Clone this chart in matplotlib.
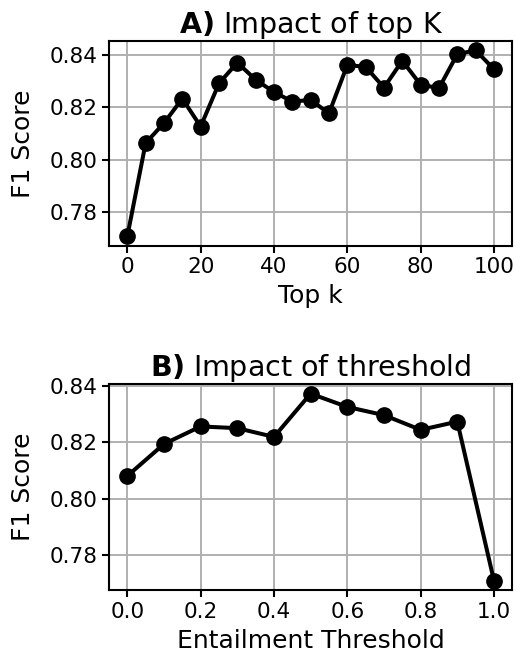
import matplotlib
matplotlib.use("Agg")
import matplotlib.pyplot as plt

# DATA
top_k = [0, 5, 10, 15, 20, 25, 30, 35, 40, 45, 50, 55, 60, 65, 70, 75, 80, 85, 90, 95, 100]
f1_top_k = [0.7709, 0.8064, 0.8140, 0.8233, 0.8127, 0.8291, 0.8370, 0.8305, 0.8258, 0.8222,
            0.8228, 0.8177, 0.8361, 0.8354, 0.8275, 0.8377, 0.8286, 0.8273, 0.8402, 0.8417, 0.8345]

thresholds = [0.0, 0.1, 0.2, 0.3, 0.4, 0.5, 0.6, 0.7, 0.8, 0.9, 1.0]
f1_threshold = [0.8081, 0.8194, 0.8256, 0.8250, 0.8219, 0.8372, 0.8325, 0.8296, 0.8244, 0.8273, 0.7711]

y_ticks = [0.78, 0.80, 0.82, 0.84]

plt.rcParams['font.family'] = 'DejaVu Sans'
plt.rcParams['xtick.labelsize'] = 15.5
plt.rcParams['ytick.labelsize'] = 15.5

fig = plt.figure(figsize=(5.16, 6.62), dpi=100)
ax1 = fig.add_axes([0.2112, 0.6289, 0.7816, 0.3092])
ax2 = fig.add_axes([0.2112, 0.1088, 0.7816, 0.3107])

panels = [
	(ax1, top_k, f1_top_k, "A)", " Impact of top K", "Top k"),
	(ax2, thresholds, f1_threshold, "B)", " Impact of threshold", "Entailment Threshold"),
]

for ax, xs, ys, tag, title, xlabel in panels:
	ax.plot(xs, ys, color="black", marker="o", markersize=11, linewidth=2.9, zorder=3)
	ax.grid(True, color="#b0b0b0", linewidth=1.4)
	ax.set_axisbelow(True)
	ax.set_yticks(y_ticks)
	ax.set_yticklabels([f"{t:.2f}" for t in y_ticks])
	ax.set_ylabel("F1 Score", fontsize=18, labelpad=10)
	ax.set_xlabel(xlabel, fontsize=18, labelpad=5)
	ax.set_title(r"$\bf{" + tag + "}$" + title, fontsize=20.5)
	for s in ax.spines.values():
		s.set_linewidth(1.5)
	ax.tick_params(width=1.5, length=5)

ax2.set_xticks([0.0, 0.2, 0.4, 0.6, 0.8, 1.0])

fig.savefig("out.png", dpi=100)
